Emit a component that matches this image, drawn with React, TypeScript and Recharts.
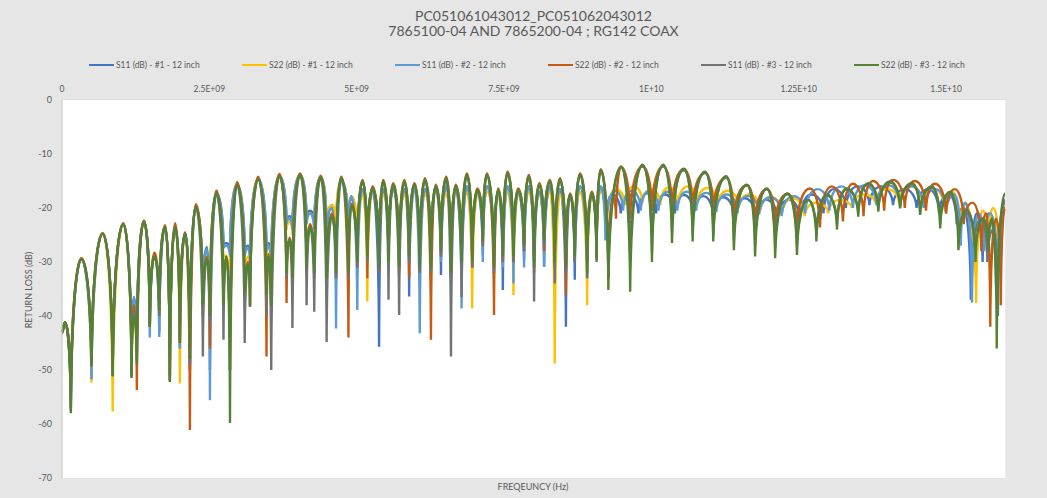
import React from 'react';
import { LineChart, Line, XAxis, YAxis, CartesianGrid } from 'recharts';

// frequency axis in GHz, labels written the way Excel prints Hz
const GRID_TICKS = [0, 0.5, 1, 1.5, 2, 2.5, 3, 3.5, 4, 4.5, 5, 5.5, 6, 6.5, 7, 7.5, 8, 8.5, 9, 9.5, 10, 10.5, 11, 11.5, 12, 12.5, 13, 13.5, 14, 14.5, 15, 15.5, 16];
const X_TICKS = [0, 2.5, 5, 7.5, 10, 12.5, 15];
const X_TICK_LABELS = ['0', '2.5E+09', '5E+09', '7.5E+09', '1E+10', '1.25E+10', '1.5E+10'];
const Y_TICKS = [0, -10, -20, -30, -40, -50, -60, -70];

// peaks / nulls below 9.2 GHz, where all six traces are in phase (GHz)
const F_LO = [
  0.00, 0.05, 0.15, 0.33, 0.50, 0.69, 0.86, 1.04, 1.18, 1.22,
  1.27, 1.39, 1.49, 1.57, 1.65, 1.75, 1.83, 1.92, 2.00, 2.09,
  2.17, 2.27, 2.39, 2.46, 2.51, 2.62, 2.74, 2.79, 2.85, 2.97,
  3.10, 3.16, 3.19, 3.33, 3.47, 3.50, 3.55, 3.69, 3.81, 3.86,
  3.91, 4.04, 4.15, 4.21, 4.28, 4.39, 4.49, 4.58, 4.65, 4.74,
  4.86, 4.91, 5.01, 5.10, 5.18, 5.27, 5.38, 5.45, 5.54, 5.62,
  5.72, 5.81, 5.89, 5.98, 6.07, 6.16, 6.26, 6.34, 6.43, 6.52,
  6.60, 6.68, 6.78, 6.87, 6.96, 7.05, 7.14, 7.21, 7.33, 7.40,
  7.48, 7.56, 7.66, 7.74, 7.84, 7.92, 8.01, 8.10, 8.18, 8.28,
  8.36, 8.45, 8.55, 8.62, 8.70, 8.79, 8.91, 8.99, 9.07, 9.14,
];

const S22_3_LO = [
  -43.1, -41.2, -58.0, -29.5, -49.4, -24.8, -51.2, -23.0, -51.5, -40.0,
  -49.0, -22.5, -42.0, -29.0, -39.0, -23.5, -52.2, -23.5, -45.0, -24.7,
  -48.0, -19.8, -38.0, -29.5, -40.0, -17.3, -38.0, -29.0, -59.8, -15.7,
  -36.0, -30.5, -38.3, -14.7, -36.0, -29.0, -38.0, -14.1, -32.0, -25.9,
  -33.0, -13.9, -31.0, -23.5, -32.0, -14.3, -33.0, -21.5, -32.0, -14.5,
  -32.0, -19.6, -30.0, -15.1, -29.0, -16.4, -31.0, -15.1, -30.0, -15.7,
  -31.0, -15.1, -29.0, -15.7, -31.0, -14.8, -31.0, -16.0, -28.0, -14.5,
  -32.0, -16.0, -30.0, -13.9, -30.0, -16.7, -26.0, -13.9, -31.0, -16.7,
  -29.0, -13.6, -29.0, -16.7, -27.0, -14.2, -31.0, -15.7, -26.0, -15.1,
  -30.0, -14.8, -31.0, -17.6, -29.0, -13.9, -32.0, -17.3, -29.6, -13.0,
];
const S11_3_LO = [
  -43.1, -41.2, -57.5, -29.5, -49.0, -24.8, -51.0, -23.0, -51.0, -39.0,
  -48.0, -22.5, -42.0, -29.0, -40.0, -23.5, -52.0, -23.5, -44.0, -24.7,
  -49.0, -19.8, -47.5, -29.5, -41.0, -17.3, -44.4, -29.0, -50.0, -15.7,
  -45.0, -30.5, -38.3, -14.7, -40.0, -29.0, -50.0, -14.1, -33.0, -25.9,
  -42.2, -13.9, -38.0, -23.5, -39.2, -14.3, -44.8, -21.5, -33.0, -14.5,
  -33.0, -19.6, -31.0, -15.1, -30.0, -16.4, -32.0, -15.1, -37.0, -15.7,
  -39.8, -15.1, -30.0, -15.7, -32.0, -14.8, -32.0, -16.0, -29.0, -14.5,
  -47.5, -16.0, -36.5, -13.9, -31.0, -16.7, -27.0, -13.9, -32.0, -16.7,
  -30.0, -13.6, -30.0, -16.7, -28.0, -14.2, -37.3, -15.7, -27.0, -15.1,
  -34.0, -14.8, -32.0, -17.6, -30.0, -13.9, -33.0, -17.3, -30.0, -13.0,
];
const S22_2_LO = [
  -43.1, -41.2, -55.0, -29.3, -49.0, -24.6, -51.0, -22.8, -51.0, -38.0,
  -53.7, -22.3, -42.0, -28.3, -40.0, -23.2, -52.0, -22.8, -45.0, -24.5,
  -61.1, -19.3, -40.0, -29.0, -46.0, -16.8, -39.0, -29.0, -50.0, -15.2,
  -37.0, -30.0, -38.0, -14.2, -47.5, -28.5, -38.0, -13.7, -37.6, -25.5,
  -33.0, -13.6, -32.0, -23.0, -33.0, -14.0, -34.0, -21.0, -33.0, -14.2,
  -44.0, -19.2, -31.0, -14.8, -33.0, -16.0, -32.0, -14.8, -31.0, -15.4,
  -32.0, -14.8, -33.0, -15.4, -32.0, -14.5, -44.4, -15.7, -29.0, -14.2,
  -33.0, -15.7, -31.0, -13.6, -31.0, -16.4, -27.0, -13.6, -39.8, -16.4,
  -30.0, -13.3, -30.0, -16.4, -28.0, -13.9, -32.0, -15.4, -28.0, -14.8,
  -31.0, -14.5, -36.1, -17.3, -30.0, -13.6, -30.0, -17.0, -29.0, -12.8,
];
const S11_2_LO = [
  -43.1, -41.2, -57.0, -29.5, -51.7, -24.8, -50.0, -23.0, -49.0, -36.5,
  -48.0, -22.5, -44.0, -28.8, -43.9, -23.5, -51.0, -23.5, -46.0, -24.7,
  -49.0, -19.8, -37.0, -27.5, -55.6, -17.3, -27.5, -27.0, -29.0, -15.7,
  -29.0, -27.5, -30.0, -14.7, -28.0, -27.0, -30.0, -14.1, -23.0, -22.0,
  -24.0, -13.9, -23.0, -21.0, -24.0, -14.3, -25.0, -20.0, -42.3, -15.0,
  -24.0, -18.0, -38.9, -16.5, -28.0, -17.0, -30.0, -16.5, -29.0, -16.5,
  -31.0, -16.5, -30.0, -16.5, -43.2, -16.5, -30.0, -16.5, -30.0, -16.0,
  -31.0, -16.5, -38.6, -16.0, -31.0, -17.0, -30.0, -16.0, -32.0, -17.0,
  -31.0, -16.0, -34.0, -17.0, -31.0, -16.0, -30.0, -17.0, -30.9, -16.0,
  -31.0, -16.5, -30.0, -17.5, -30.0, -16.0, -33.0, -17.5, -28.0, -16.0,
];
const S22_1_LO = [
  -43.1, -41.2, -57.0, -29.3, -52.3, -24.8, -57.7, -23.0, -51.5, -39.0,
  -48.0, -22.5, -42.0, -29.0, -40.0, -23.5, -52.0, -23.5, -52.5, -24.7,
  -49.0, -19.8, -36.0, -29.0, -38.0, -17.3, -28.5, -29.0, -32.0, -15.7,
  -33.0, -29.0, -30.5, -14.7, -30.0, -27.0, -31.0, -14.1, -24.0, -22.5,
  -25.0, -13.9, -23.0, -21.0, -24.0, -14.3, -24.0, -19.5, -23.0, -15.0,
  -23.0, -18.0, -25.0, -17.5, -37.3, -17.0, -28.0, -17.5, -27.0, -16.5,
  -29.0, -17.5, -27.0, -16.5, -29.0, -17.5, -28.0, -17.0, -26.0, -17.5,
  -29.0, -17.0, -28.0, -17.0, -38.6, -17.5, -25.0, -17.0, -29.0, -17.5,
  -28.0, -17.0, -36.1, -17.5, -26.0, -17.0, -28.0, -17.5, -25.0, -17.0,
  -48.8, -17.5, -28.0, -17.5, -27.0, -17.0, -38.0, -17.5, -26.0, -17.0,
];
const S11_1_LO = [
  -43.1, -41.2, -56.0, -29.5, -51.7, -24.8, -50.0, -23.0, -49.0, -36.5,
  -47.0, -22.5, -42.0, -28.8, -43.0, -23.5, -51.0, -23.5, -46.0, -24.7,
  -50.0, -19.8, -36.0, -27.2, -50.0, -17.3, -27.0, -26.5, -28.0, -15.7,
  -28.0, -27.0, -29.0, -14.7, -27.5, -26.5, -29.0, -14.1, -22.5, -21.5,
  -23.0, -13.9, -22.0, -20.5, -23.0, -14.3, -24.0, -19.5, -25.0, -15.0,
  -23.0, -17.8, -28.0, -16.5, -27.0, -17.0, -45.7, -16.5, -28.0, -16.5,
  -29.0, -16.5, -36.4, -16.5, -30.0, -16.5, -29.0, -16.5, -32.4, -16.0,
  -29.0, -16.5, -33.0, -16.0, -30.0, -17.0, -28.7, -16.0, -30.0, -17.0,
  -35.2, -16.0, -30.0, -17.0, -29.6, -16.0, -30.0, -17.0, -30.9, -16.0,
  -30.0, -16.5, -42.0, -17.5, -33.3, -16.0, -30.0, -17.5, -27.0, -16.0,
];

// above 9.2 GHz the traces drift apart: [GHz, dB]
const S22_3_HI = [
  [9.27, -35.2], [9.49, -12.3], [9.64, -35.5], [9.85, -12.0], [10.01, -30.0], [10.20, -12.0], [10.35, -26.5], [10.55, -12.7],
  [10.70, -26.2], [10.91, -13.3], [11.05, -26.2], [11.27, -14.1], [11.40, -27.8], [11.62, -15.7], [11.76, -29.0], [11.96, -16.4],
  [12.10, -29.3], [12.31, -17.3], [12.47, -28.7], [12.66, -18.5], [12.80, -26.2], [12.98, -17.5], [13.15, -24.0], [13.31, -16.4],
  [13.51, -21.6], [13.68, -15.4], [13.85, -20.7], [14.05, -15.1], [14.22, -20.1], [14.42, -15.4], [14.56, -21.3], [14.76, -16.0],
  [14.90, -23.8], [15.07, -17.0], [15.21, -27.8], [15.35, -20.4], [15.50, -30.0], [15.62, -22.0], [15.72, -28.0], [15.78, -22.0],
  [15.86, -46.0], [16.00, -17.3],
];
const S11_3_HI = [
  [9.27, -33.0], [9.49, -12.5], [9.64, -30.0], [9.85, -12.3], [10.01, -28.0], [10.20, -12.3], [10.35, -24.5], [10.55, -13.0],
  [10.70, -24.5], [10.91, -13.5], [11.05, -25.0], [11.27, -14.3], [11.40, -26.0], [11.62, -15.8], [11.76, -27.0], [11.96, -16.5],
  [12.10, -27.5], [12.31, -17.4], [12.47, -27.0], [12.66, -18.5], [12.80, -25.0], [12.98, -17.7], [13.15, -23.0], [13.31, -16.6],
  [13.51, -21.0], [13.68, -15.6], [13.85, -20.3], [14.05, -15.3], [14.22, -19.8], [14.42, -15.6], [14.56, -21.0], [14.76, -16.2],
  [14.90, -23.0], [15.07, -17.5], [15.21, -25.0], [15.35, -21.0], [15.48, -27.0], [15.60, -22.0], [15.70, -30.0], [15.80, -24.0],
  [15.88, -40.0], [16.00, -18.5],
];
const S22_2_HI = [
  [9.27, -33.0], [9.35, -18.0], [9.40, -22.0], [9.49, -12.5], [9.64, -22.0], [9.85, -12.3], [10.01, -20.5], [10.20, -12.3],
  [10.35, -20.4], [10.55, -12.8], [10.70, -20.2], [10.91, -13.5], [11.05, -20.5], [11.27, -14.4], [11.40, -22.2], [11.62, -15.8],
  [11.76, -22.8], [11.96, -16.5], [12.10, -23.1], [12.31, -17.4], [12.47, -23.5], [12.69, -16.4], [12.86, -23.6], [13.06, -16.0],
  [13.25, -22.5], [13.42, -15.5], [13.60, -21.5], [13.76, -15.0], [13.95, -20.5], [14.10, -14.8], [14.30, -20.0], [14.47, -15.0],
  [14.66, -20.5], [14.81, -15.5], [15.00, -21.0], [15.15, -16.5], [15.30, -23.0], [15.45, -19.0], [15.60, -28.0], [15.68, -21.0],
  [15.75, -42.0], [15.85, -22.0], [15.93, -38.0], [16.00, -20.0],
];
const S11_2_HI = [
  [9.22, -26.0], [9.38, -16.8], [9.52, -20.5], [9.67, -16.8], [9.82, -20.5], [9.97, -16.8], [10.12, -20.5], [10.28, -17.0],
  [10.44, -20.5], [10.60, -17.0], [10.76, -20.5], [10.93, -17.2], [11.10, -20.8], [11.28, -17.5], [11.46, -21.0], [11.64, -17.8],
  [11.83, -21.2], [12.02, -18.0], [12.21, -21.5], [12.41, -17.8], [12.61, -21.0], [12.82, -16.5], [13.02, -20.5], [13.22, -16.0],
  [13.42, -20.0], [13.62, -15.8], [13.82, -19.5], [14.02, -15.8], [14.22, -19.5], [14.42, -16.0], [14.62, -20.0], [14.82, -16.5],
  [15.00, -21.0], [15.14, -17.5], [15.25, -27.0], [15.33, -19.0], [15.44, -37.5], [15.55, -21.0], [15.65, -28.0], [15.75, -21.0],
  [15.88, -33.0], [16.00, -19.0],
];
const S22_1_HI = [
  [9.25, -22.0], [9.40, -16.5], [9.55, -19.5], [9.70, -16.0], [9.85, -19.0], [10.00, -16.5], [10.15, -19.5], [10.30, -16.2],
  [10.45, -19.5], [10.62, -16.0], [10.78, -19.0], [10.95, -16.3], [11.12, -19.5], [11.30, -16.8], [11.48, -20.0], [11.66, -17.5],
  [11.85, -20.5], [12.03, -18.0], [12.22, -21.0], [12.40, -18.2], [12.60, -21.5], [12.80, -19.0], [13.00, -21.0], [13.20, -18.5],
  [13.40, -20.0], [13.60, -17.5], [13.80, -19.0], [14.00, -16.5], [14.20, -19.0], [14.40, -16.0], [14.60, -19.5], [14.80, -16.5],
  [14.98, -20.5], [15.12, -17.0], [15.22, -27.5], [15.32, -19.0], [15.51, -37.6], [15.62, -20.5], [15.72, -27.0], [15.80, -20.0],
  [15.90, -30.0], [16.00, -19.5],
];
const S11_1_HI = [
  [9.22, -24.0], [9.33, -17.5], [9.48, -21.0], [9.62, -17.5], [9.78, -21.0], [9.93, -17.3], [10.08, -21.0], [10.23, -17.5],
  [10.40, -21.0], [10.55, -17.6], [10.72, -21.2], [10.88, -17.8], [11.05, -21.5], [11.22, -18.0], [11.40, -21.5], [11.58, -18.2],
  [11.77, -21.8], [11.95, -18.5], [12.14, -22.0], [12.33, -18.5], [12.52, -22.0], [12.72, -17.5], [12.92, -21.0], [13.10, -16.5],
  [13.30, -20.0], [13.50, -16.0], [13.70, -19.5], [13.90, -16.0], [14.10, -19.5], [14.30, -16.5], [14.50, -20.0], [14.70, -16.5],
  [14.88, -21.0], [15.05, -17.5], [15.18, -23.0], [15.30, -20.0], [15.42, -37.0], [15.52, -21.0], [15.62, -30.0], [15.72, -21.0],
  [15.85, -35.0], [16.00, -20.0],
];

const build = (lo: number[], hi: number[][]) => [
  ...F_LO.map((f, i) => ({ f, v: lo[i] })),
  ...hi.map(([f, v]) => ({ f, v })),
];

const SERIES = [
  { name: 'S11 (dB) - #1 - 12 inch', color: '#4472C4', data: build(S11_1_LO, S11_1_HI) },
  { name: 'S22 (dB) - #1 - 12 inch', color: '#FFC000', data: build(S22_1_LO, S22_1_HI) },
  { name: 'S11 (dB) - #2 - 12 inch', color: '#5B9BD5', data: build(S11_2_LO, S11_2_HI) },
  { name: 'S22 (dB) - #2 - 12 inch', color: '#C55A11', data: build(S22_2_LO, S22_2_HI) },
  { name: 'S11 (dB) - #3 - 12 inch', color: '#737373', data: build(S11_3_LO, S11_3_HI) },
  { name: 'S22 (dB) - #3 - 12 inch', color: '#548235', data: build(S22_3_LO, S22_3_HI) },
];

// rounded peaks, sharp nulls - like a return loss trace sampled finely
const rippleCurve = (ctx: any) => {
  let pts: number[][] = [];
  return {
    areaStart() {},
    areaEnd() {},
    lineStart() { pts = []; },
    point(x: number, y: number) { pts.push([+x, +y]); },
    lineEnd() {
      const n = pts.length;
      if (!n) return;
      const kind = (i: number) => {
        if (i === 0 || i === n - 1) return 'flat';
        const y = pts[i][1];
        if (y >= pts[i - 1][1] && y >= pts[i + 1][1]) return 'dip';
        if (y <= pts[i - 1][1] && y <= pts[i + 1][1]) return 'flat';
        return 'slope';
      };
      const ctrl = (i: number, j: number) => {
        const [xi, yi] = pts[i];
        const [xj, yj] = pts[j];
        const k = kind(i);
        if (k === 'dip') return [xi + (xj - xi) * 0.05, yi + (yj - yi) * 0.6];
        if (k === 'flat') return [xi + (xj - xi) * 0.5, yi];
        const s = (pts[i + 1][1] - pts[i - 1][1]) / (pts[i + 1][0] - pts[i - 1][0]);
        const d = (xj - xi) / 3;
        return [xi + d, yi + s * d];
      };
      ctx.moveTo(pts[0][0], pts[0][1]);
      for (let i = 1; i < n; i++) {
        const a = ctrl(i - 1, i);
        const b = ctrl(i, i - 1);
        ctx.bezierCurveTo(a[0], a[1], b[0], b[1], pts[i][0], pts[i][1]);
      }
    },
  };
};

const FONT = 'Lato, "Open Sans", sans-serif';
const TEXT = '#595959';

export default function App() {
  return (
    <div style={{ position: 'absolute', left: 0, top: 0, width: 1047, height: 498, background: '#e6e6e6', fontFamily: FONT, color: TEXT }}>
      <div style={{ position: 'absolute', top: 8, left: 0, width: 1067, textAlign: 'center', fontSize: 14, lineHeight: '15px' }}>
        PC051061043012_PC051062043012<br />7865100-04 AND 7865200-04 ; RG142 COAX
      </div>

      <div style={{ position: 'absolute', top: 60, left: 89, display: 'flex', fontSize: 8.5 }}>
        {SERIES.map((s) => (
          <div key={s.name} style={{ width: 153, display: 'flex', alignItems: 'center', whiteSpace: 'nowrap' }}>
            <span style={{ display: 'inline-block', width: 25, height: 2, background: s.color, marginRight: 2 }} />
            {s.name}
          </div>
        ))}
      </div>

      <div style={{ position: 'absolute', left: 28, top: 290, transform: 'translate(-50%, -50%) rotate(-90deg)', fontSize: 9, whiteSpace: 'nowrap' }}>
        RETURN LOSS (dB)
      </div>
      <div style={{ position: 'absolute', left: 533, top: 486, transform: 'translate(-50%, -50%)', fontSize: 9, whiteSpace: 'nowrap' }}>
        FREQEUNCY (Hz)
      </div>

      <div style={{ position: 'absolute', left: 0, top: 0 }}>
        <LineChart width={1047} height={498} margin={{ top: 80, right: 42, bottom: 20, left: 0 }}>
          <rect x={62} y={100} width={943} height={378} fill="#ffffff" />
          <CartesianGrid horizontal={false} stroke="#efefef" strokeWidth={1} />
          <CartesianGrid vertical={false} stroke="#d9d9d9" strokeWidth={1} />
          <XAxis
            type="number"
            dataKey="f"
            orientation="top"
            domain={[0, 16]}
            ticks={GRID_TICKS}
            interval={0}
            height={20}
            axisLine={false}
            tickLine={false}
            tick={{ fill: TEXT, fontSize: 8.5, fontFamily: FONT }}
            tickFormatter={(v: number) => {
              const i = X_TICKS.indexOf(v);
              return i >= 0 ? X_TICK_LABELS[i] : '';
            }}
          />
          <YAxis
            type="number"
            domain={[-70, 0]}
            ticks={Y_TICKS}
            width={62}
            axisLine={{ stroke: '#bfbfbf' }}
            tickLine={false}
            tickMargin={4}
            tick={{ fill: TEXT, fontSize: 9, fontFamily: FONT }}
          />
          {SERIES.map((s) => (
            <Line
              key={s.name}
              data={s.data}
              dataKey="v"
              name={s.name}
              type={rippleCurve as any}
              stroke={s.color}
              strokeWidth={2.4}
              dot={false}
              activeDot={false}
              isAnimationActive={false}
            />
          ))}
        </LineChart>
      </div>
    </div>
  );
}
